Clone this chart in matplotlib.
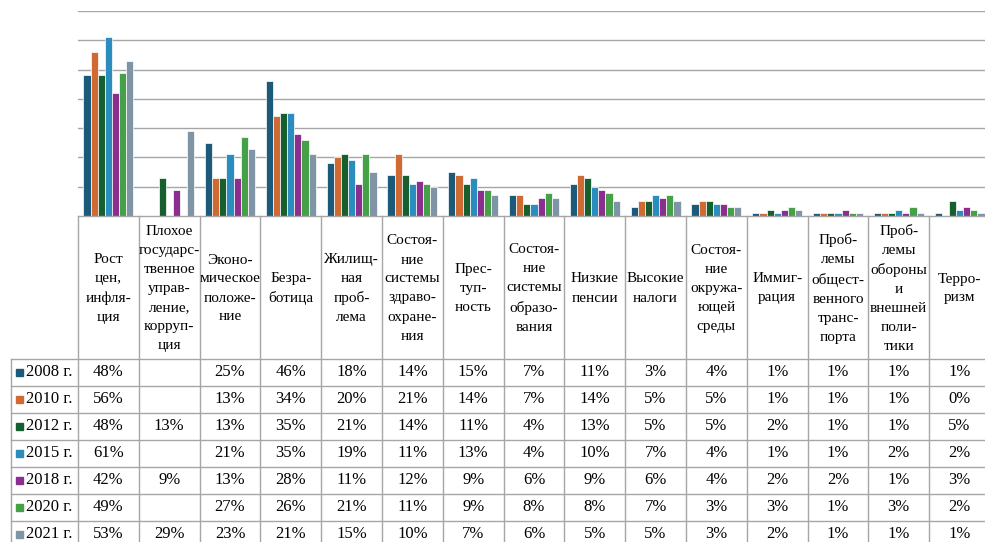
import numpy as np
import matplotlib.pyplot as plt
from matplotlib.patches import Rectangle

plt.rcParams['font.family'] = ['Liberation Serif', 'DejaVu Serif']

# категории (подписи как в исходной таблице, с переносами)
categories = [
    'Рост\nцен,\nинфля-\nция',
    'Плохое\nгосударс-\nтвенное\nуправ-\nление,\nкорруп-\nция',
    'Эконо-\nмическое\nположе-\nние',
    'Безра-\nботица',
    'Жилищ-\nная\nпроб-\nлема',
    'Состоя-\nние\nсистемы\nздраво-\nохране-\nния',
    'Прес-\nтуп-\nность',
    'Состоя-\nние\nсистемы\nобразо-\nвания',
    'Низкие\nпенсии',
    'Высокие\nналоги',
    'Состоя-\nние\nокружа-\nющей\nсреды',
    'Иммиг-\nрация',
    'Проб-\nлемы\nобщест-\nвенного\nтранс-\nпорта',
    'Проб-\nлемы\nобороны\nи\nвнешней\nполи-\nтики',
    'Терро-\nризм',
]

years = ['2008 г.', '2010 г.', '2012 г.', '2015 г.', '2018 г.', '2020 г.', '2021 г.']

v2008 = [48, None, 25, 46, 18, 14, 15, 7, 11, 3, 4, 1, 1, 1, 1]
v2010 = [56, None, 13, 34, 20, 21, 14, 7, 14, 5, 5, 1, 1, 1, 0]
v2012 = [48, 13, 13, 35, 21, 14, 11, 4, 13, 5, 5, 2, 1, 1, 5]
v2015 = [61, None, 21, 35, 19, 11, 13, 4, 10, 7, 4, 1, 1, 2, 2]
v2018 = [42, 9, 13, 28, 11, 12, 9, 6, 9, 6, 4, 2, 2, 1, 3]
v2020 = [49, None, 27, 26, 21, 11, 9, 8, 8, 7, 3, 3, 1, 3, 2]
v2021 = [53, 29, 23, 21, 15, 10, 7, 6, 5, 5, 3, 2, 1, 1, 1]
series = [v2008, v2010, v2012, v2015, v2018, v2020, v2021]

colors = ['#1B5A78', '#D06A35', '#185F30', '#2A8DBD', '#8A2E8F', '#46A047', '#7F95A6']

# размеры в пикселях
W, H = 985, 542
x0, cw = 78, 60.8          # левый край области и ширина столбца таблицы
base, top = 216, 11        # ноль и 70% по вертикали
head_bot = 359             # низ строки с названиями
rh = 26.95                 # высота строки таблицы
left = 10.7
line_c = '#A6A6A6'

fig = plt.figure(figsize=(W / 100, H / 100), dpi=100)

ax = fig.add_axes([x0 / W, 1 - base / H, (W - x0) / W, (base - top) / H])
n = len(categories)
x = np.arange(n) + 0.5
bw = 0.82 / len(series)
for i, (vals, c) in enumerate(zip(series, colors)):
    v = np.array([np.nan if s is None else s for s in vals], dtype=float)
    ax.bar(x + (i - 3) * bw, v, bw, color=c, edgecolor='white', linewidth=0.5, zorder=3)

ax.set_xlim(0, (W - x0) / cw)
ax.set_ylim(0, 70)
ax.set_yticks(range(10, 71, 10))
ax.yaxis.grid(True, color=line_c, linewidth=1)
ax.set_axisbelow(True)
ax.tick_params(left=False, labelleft=False, bottom=False, labelbottom=False)
for s in ax.spines.values():
    s.set_visible(False)

# таблица данных под диаграммой
tab = fig.add_axes([0, 0, 1, 1])
tab.set_xlim(0, W)
tab.set_ylim(H, 0)
tab.axis('off')

for i in range(n + 1):
    xx = x0 + i * cw
    tab.plot([xx, xx], [base, H], color=line_c, lw=1)
tab.plot([left, left], [head_bot, H], color=line_c, lw=1)
tab.plot([x0, W], [base, base], color=line_c, lw=1)
for k in range(len(series) + 1):
    yy = head_bot + k * rh
    tab.plot([left, W], [yy, yy], color=line_c, lw=1)

for i, cat in enumerate(categories):
    tab.text(x0 + (i + 0.5) * cw, (base + head_bot) / 2 + 1, cat, ha='center', va='center',
             fontsize=11, linespacing=1.6)

for k, (yr, vals, c) in enumerate(zip(years, series, colors)):
    yc = head_bot + (k + 0.5) * rh
    tab.add_patch(Rectangle((16, yc - 3.5), 7, 7, color=c))
    tab.text(25.5, yc, yr, ha='left', va='center', fontsize=12)
    for i, v in enumerate(vals):
        if v is not None:
            tab.text(x0 + (i + 0.5) * cw, yc, f'{v}%', ha='center', va='center', fontsize=12)

fig.savefig('out.png', dpi=100)
